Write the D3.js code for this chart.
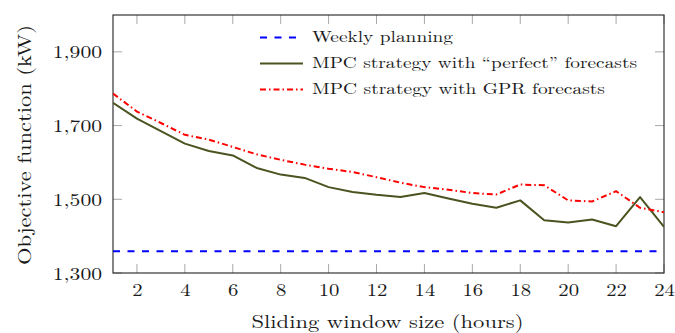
<!DOCTYPE html>
<html>
<head>
<meta charset="utf-8">
<script src="https://cdn.jsdelivr.net/npm/d3@7"></script>
<style>
  html, body { margin: 0; padding: 0; background: #fff; }
  svg text { font-family: "Latin Modern Roman", "CMU Serif", "Liberation Serif", serif; fill: #1a1a1a; }
</style>
</head>
<body>
<svg id="chart" width="675" height="333"></svg>
<script>
// Sliding window sizes (hours)
const windowSizes = [1,2,3,4,5,6,7,8,9,10,11,12,13,14,15,16,17,18,19,20,21,22,23,24];
// Objective function (kW) for each strategy
const weeklyPlanning = 1359;
const mpcPerfect = [1762,1719,1685,1651,1631,1619,1585,1567,1558,1533,1520,1512,1506,1517,1502,1488,1477,1497,1443,1437,1445,1427,1506,1425];
const mpcGPR = [1787,1738,1707,1675,1662,1642,1622,1607,1594,1583,1574,1560,1545,1533,1526,1517,1513,1540,1538,1497,1494,1522,1477,1465];
const xTicks = [2,4,6,8,10,12,14,16,18,20,22,24];
const yTicks = [1300,1500,1700,1900];
const seriesNames = ["Weekly planning", "MPC strategy with \u201cperfect\u201d forecasts", "MPC strategy with GPR forecasts"];

const W = 675, H = 333;
const m = {left: 113, right: 11, top: 15, bottom: 60};
const svg = d3.select("#chart");

const x = d3.scaleLinear().domain([1, 24]).range([m.left, W - m.right]);
const y = d3.scaleLinear().domain([1300, 2000]).range([H - m.bottom, m.top]);

// widen serif glyphs horizontally by a factor
function widen(sel, k) {
  sel.each(function() {
    const len = this.getComputedTextLength();
    d3.select(this).attr("textLength", len * k).attr("lengthAdjust", "spacingAndGlyphs");
  });
}

const tickLen = 9;
const tickColor = "#a8a8a8";

// inward ticks on all four sides
const g = svg.append("g");
xTicks.forEach(t => {
  g.append("line").attr("x1", x(t)).attr("x2", x(t)).attr("y1", y.range()[0]).attr("y2", y.range()[0] - tickLen)
    .attr("stroke", tickColor).attr("stroke-width", 1);
  g.append("line").attr("x1", x(t)).attr("x2", x(t)).attr("y1", y.range()[1]).attr("y2", y.range()[1] + tickLen)
    .attr("stroke", tickColor).attr("stroke-width", 1);
});
yTicks.forEach(t => {
  g.append("line").attr("x1", x.range()[0]).attr("x2", x.range()[0] + tickLen).attr("y1", y(t)).attr("y2", y(t))
    .attr("stroke", tickColor).attr("stroke-width", 1);
  g.append("line").attr("x1", x.range()[1]).attr("x2", x.range()[1] - tickLen).attr("y1", y(t)).attr("y2", y(t))
    .attr("stroke", tickColor).attr("stroke-width", 1);
});

// tick labels via d3 axes (tick marks drawn above)
const fmt = d3.format(",");
const xAxis = svg.append("g").attr("transform", `translate(0,${H - m.bottom})`)
  .call(d3.axisBottom(x).tickValues(xTicks).tickSize(0).tickPadding(0).tickFormat(d3.format("d")));
xAxis.select(".domain").remove();
xAxis.selectAll("text").attr("font-size", 18).attr("fill", "#1a1a1a").style("font-family", null)
  .attr("dy", null).attr("y", 23);
widen(xAxis.selectAll("text"), 1.15);

const yAxis = svg.append("g").attr("transform", `translate(${m.left},0)`)
  .call(d3.axisLeft(y).tickValues(yTicks).tickSize(0).tickPadding(11).tickFormat(fmt));
yAxis.select(".domain").remove();
yAxis.selectAll("text").attr("font-size", 18).attr("fill", "#1a1a1a").style("font-family", null)
  .attr("dy", null).attr("y", 6);
widen(yAxis.selectAll("text"), 1.2);

// frame
svg.append("rect").attr("x", m.left).attr("y", m.top)
  .attr("width", W - m.left - m.right).attr("height", H - m.top - m.bottom)
  .attr("fill", "none").attr("stroke", "#222").attr("stroke-width", 1.1);

svg.append("clipPath").attr("id", "plotclip").append("rect")
  .attr("x", m.left).attr("y", m.top).attr("width", W - m.left - m.right).attr("height", H - m.top - m.bottom);

const plot = svg.append("g").attr("clip-path", "url(#plotclip)");
const line = d3.line().x((d, i) => x(windowSizes[i])).y(d => y(d));

const styles = [
  {color: "#0000ff", dash: "7,7.5", width: 1.8},
  {color: "#4b5320", dash: null, width: 2},
  {color: "#ff0000", dash: "6,3,1.5,3", width: 2}
];

// weekly planning reference level
plot.append("path")
  .attr("d", line(windowSizes.map(() => weeklyPlanning)))
  .attr("fill", "none").attr("stroke", styles[0].color).attr("stroke-width", styles[0].width)
  .attr("stroke-dasharray", styles[0].dash);
plot.append("path")
  .attr("d", line(mpcPerfect))
  .attr("fill", "none").attr("stroke", styles[1].color).attr("stroke-width", styles[1].width)
  .attr("stroke-linejoin", "round");
plot.append("path")
  .attr("d", line(mpcGPR))
  .attr("fill", "none").attr("stroke", styles[2].color).attr("stroke-width", styles[2].width)
  .attr("stroke-dasharray", styles[2].dash);

// legend
const legendWidths = [141, 325, 293];
const legend = svg.append("g").attr("transform", "translate(260,37.5)");
seriesNames.forEach((name, i) => {
  const row = legend.append("g").attr("transform", `translate(0,${i * 26})`);
  row.append("line").attr("x1", 0).attr("x2", 43).attr("y1", 0).attr("y2", 0)
    .attr("stroke", styles[i].color).attr("stroke-width", styles[i].width)
    .attr("stroke-dasharray", styles[i].dash);
  row.append("text").attr("x", 52).attr("y", 4.8)
    .attr("font-size", 15).text(name)
    .attr("textLength", legendWidths[i]).attr("lengthAdjust", "spacingAndGlyphs");
});

// axis titles
svg.append("text").attr("x", (m.left + W - m.right) / 2 - 1).attr("y", 327.5)
  .attr("text-anchor", "middle").attr("font-size", 18.5).text("Sliding window size (hours)")
  .attr("textLength", 272).attr("lengthAdjust", "spacingAndGlyphs");
svg.append("text").attr("transform", `translate(31,145) rotate(-90)`)
  .attr("text-anchor", "middle").attr("font-size", 19).text("Objective function (kW)")
  .attr("textLength", 240).attr("lengthAdjust", "spacingAndGlyphs");
</script>
</body>
</html>
